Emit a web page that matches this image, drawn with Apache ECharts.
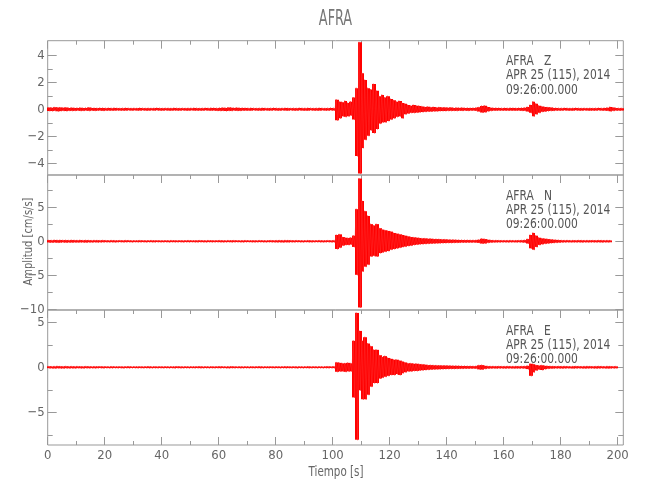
<!DOCTYPE html>
<html>
<head>
<meta charset="utf-8">
<script src="https://cdn.jsdelivr.net/npm/echarts@6/dist/echarts.min.js"></script>
<style>html,body{margin:0;padding:0;background:#fff}#c{width:650px;height:500px}</style>
</head>
<body>
<div id="c"></div>
<script>
// ---- data (envelope peaks per 1-second bin) ----
const xMajor = [0,20,40,60,80,100,120,140,160,180,200];
const xMinor = [10,30,50,70,90,110,130,150,170,190];
const zTicks = [-4,-2,0,2,4];
const zMinor = [-3,-1,1,3];
const nTicks = [-10,-5,0,5];
const nMinor = [-7.5,-2.5,2.5,7.5];
const eTicks = [-5,0,5];
const eMinor = [-7.5,-2.5,2.5];
const panelNames = ['AFRA   Z','AFRA   N','AFRA   E'];
const dateLine = 'APR 25 (115), 2014';
const timeLine = '09:26:00.000';

const zHi = [0.17,0.15,0.18,0.16,0.17,0.15,0.16,0.14,0.15,0.13,
 0.14,0.15,0.13,0.14,0.16,0.14,0.13,0.12,0.14,0.13,
 0.12,0.13,0.12,0.14,0.12,0.11,0.12,0.13,0.12,0.11,
 0.12,0.11,0.13,0.12,0.11,0.12,0.11,0.12,0.13,0.12,
 0.11,0.12,0.12,0.11,0.13,0.12,0.11,0.12,0.11,0.12,
 0.12,0.13,0.12,0.11,0.12,0.13,0.12,0.14,0.13,0.12,
 0.14,0.15,0.14,0.16,0.15,0.14,0.15,0.13,0.14,0.13,
 0.12,0.13,0.12,0.11,0.12,0.13,0.12,0.11,0.12,0.13,
 0.12,0.11,0.12,0.13,0.12,0.11,0.12,0.11,0.13,0.12,
 0.12,0.13,0.12,0.11,0.12,0.13,0.12,0.11,0.12,0.13,
 0.12,0.75,0.60,0.55,0.65,0.50,0.60,0.90,1.60,5.00,
 2.70,2.20,1.60,1.50,1.90,1.40,1.00,1.10,0.90,1.00,
 0.80,0.70,0.60,0.65,0.50,0.45,0.35,0.30,0.35,0.30,
 0.28,0.25,0.20,0.22,0.18,0.20,0.17,0.18,0.16,0.17,
 0.15,0.16,0.14,0.15,0.14,0.15,0.13,0.14,0.13,0.14,
 0.15,0.18,0.28,0.30,0.20,0.15,0.13,0.14,0.13,0.12,
 0.13,0.12,0.14,0.13,0.12,0.13,0.14,0.15,0.20,0.35,
 0.60,0.45,0.30,0.25,0.20,0.18,0.16,0.14,0.13,0.12,
 0.12,0.13,0.12,0.11,0.12,0.13,0.12,0.11,0.12,0.11,
 0.12,0.11,0.12,0.13,0.12,0.13,0.15,0.20,0.16,0.13,
 0.12,0.12];
const zLo = [-0.16,-0.17,-0.15,-0.18,-0.16,-0.15,-0.17,-0.14,-0.15,-0.14,
 -0.13,-0.15,-0.14,-0.13,-0.15,-0.13,-0.14,-0.12,-0.13,-0.14,
 -0.12,-0.12,-0.13,-0.12,-0.11,-0.12,-0.13,-0.12,-0.11,-0.12,
 -0.11,-0.12,-0.12,-0.11,-0.13,-0.12,-0.11,-0.12,-0.11,-0.12,
 -0.12,-0.11,-0.13,-0.12,-0.11,-0.12,-0.12,-0.11,-0.12,-0.13,
 -0.11,-0.12,-0.13,-0.12,-0.12,-0.11,-0.13,-0.13,-0.12,-0.14,
 -0.15,-0.14,-0.16,-0.14,-0.15,-0.13,-0.14,-0.14,-0.13,-0.12,
 -0.13,-0.12,-0.11,-0.12,-0.13,-0.12,-0.11,-0.12,-0.12,-0.11,
 -0.12,-0.13,-0.11,-0.12,-0.12,-0.11,-0.13,-0.12,-0.11,-0.12,
 -0.13,-0.12,-0.11,-0.12,-0.12,-0.13,-0.11,-0.12,-0.12,-0.11,
 -0.12,-0.85,-0.70,-0.55,-0.60,-0.55,-0.50,-0.80,-3.50,-4.80,
 -2.90,-2.30,-2.00,-1.60,-1.80,-1.50,-1.10,-1.00,-1.00,-0.90,
 -0.80,-0.70,-0.60,-0.55,-0.70,-0.40,-0.35,-0.30,-0.30,-0.28,
 -0.25,-0.24,-0.22,-0.20,-0.20,-0.18,-0.18,-0.17,-0.16,-0.16,
 -0.15,-0.15,-0.14,-0.15,-0.13,-0.14,-0.13,-0.14,-0.13,-0.13,
 -0.15,-0.20,-0.28,-0.25,-0.18,-0.15,-0.13,-0.13,-0.12,-0.12,
 -0.12,-0.13,-0.12,-0.13,-0.12,-0.12,-0.14,-0.15,-0.20,-0.30,
 -0.55,-0.40,-0.30,-0.22,-0.20,-0.17,-0.15,-0.14,-0.13,-0.12,
 -0.12,-0.11,-0.12,-0.13,-0.12,-0.11,-0.12,-0.13,-0.11,-0.12,
 -0.12,-0.13,-0.12,-0.11,-0.12,-0.13,-0.14,-0.18,-0.15,-0.12,
 -0.12,-0.12];

const nHi = [0.25,0.22,0.26,0.24,0.25,0.23,0.24,0.22,0.25,0.23,
 0.22,0.24,0.21,0.23,0.22,0.20,0.22,0.21,0.20,0.22,
 0.20,0.19,0.21,0.20,0.18,0.20,0.19,0.21,0.20,0.18,
 0.19,0.18,0.20,0.19,0.18,0.19,0.20,0.18,0.19,0.18,
 0.18,0.19,0.18,0.20,0.19,0.18,0.19,0.18,0.19,0.20,
 0.19,0.18,0.19,0.20,0.19,0.18,0.20,0.19,0.18,0.19,
 0.20,0.19,0.18,0.20,0.19,0.20,0.19,0.18,0.19,0.20,
 0.19,0.18,0.19,0.18,0.20,0.19,0.18,0.19,0.20,0.19,
 0.20,0.21,0.20,0.22,0.21,0.20,0.19,0.20,0.19,0.18,
 0.19,0.20,0.19,0.18,0.19,0.20,0.19,0.18,0.20,0.19,
 0.20,1.00,1.10,0.70,0.60,0.55,0.60,0.90,4.80,9.30,
 6.00,4.50,3.80,2.60,2.40,2.60,2.00,1.80,1.70,1.60,
 1.50,1.30,1.20,1.10,1.00,0.90,0.80,0.70,0.65,0.60,
 0.55,0.50,0.50,0.45,0.45,0.40,0.40,0.38,0.35,0.35,
 0.32,0.30,0.30,0.28,0.27,0.26,0.25,0.25,0.24,0.24,
 0.25,0.30,0.45,0.40,0.30,0.25,0.22,0.22,0.21,0.20,
 0.20,0.20,0.21,0.20,0.20,0.21,0.22,0.25,0.40,1.00,
 1.30,0.90,0.60,0.50,0.45,0.40,0.35,0.30,0.28,0.25,
 0.22,0.21,0.22,0.20,0.21,0.20,0.22,0.21,0.20,0.21,
 0.20,0.21,0.20,0.22,0.21,0.20,0.21,0.20];
const nLo = [-0.24,-0.25,-0.23,-0.26,-0.24,-0.22,-0.25,-0.23,-0.24,-0.22,
 -0.23,-0.21,-0.22,-0.24,-0.21,-0.22,-0.20,-0.22,-0.21,-0.20,
 -0.19,-0.20,-0.19,-0.21,-0.19,-0.18,-0.20,-0.19,-0.18,-0.20,
 -0.18,-0.19,-0.19,-0.18,-0.20,-0.18,-0.19,-0.20,-0.18,-0.19,
 -0.19,-0.18,-0.20,-0.18,-0.19,-0.19,-0.18,-0.20,-0.18,-0.19,
 -0.18,-0.19,-0.20,-0.18,-0.19,-0.20,-0.18,-0.19,-0.19,-0.18,
 -0.19,-0.20,-0.19,-0.18,-0.20,-0.19,-0.18,-0.19,-0.20,-0.18,
 -0.18,-0.19,-0.20,-0.19,-0.18,-0.19,-0.20,-0.18,-0.19,-0.20,
 -0.21,-0.20,-0.22,-0.20,-0.21,-0.19,-0.20,-0.18,-0.19,-0.20,
 -0.18,-0.19,-0.20,-0.19,-0.18,-0.19,-0.20,-0.19,-0.18,-0.20,
 -0.20,-1.20,-1.00,-0.70,-0.60,-0.60,-0.55,-0.90,-5.00,-9.80,
 -4.50,-3.80,-3.50,-2.30,-2.20,-2.30,-1.80,-1.70,-1.60,-1.50,
 -1.30,-1.20,-1.10,-1.00,-0.90,-0.85,-0.75,-0.70,-0.60,-0.55,
 -0.50,-0.48,-0.45,-0.42,-0.40,-0.38,-0.36,-0.35,-0.33,-0.32,
 -0.30,-0.30,-0.28,-0.27,-0.26,-0.25,-0.25,-0.24,-0.24,-0.23,
 -0.25,-0.30,-0.40,-0.38,-0.28,-0.24,-0.22,-0.21,-0.21,-0.20,
 -0.20,-0.21,-0.20,-0.20,-0.21,-0.20,-0.22,-0.25,-0.40,-1.10,
 -1.30,-0.90,-0.60,-0.50,-0.42,-0.38,-0.33,-0.30,-0.27,-0.25,
 -0.22,-0.21,-0.20,-0.21,-0.20,-0.21,-0.20,-0.22,-0.20,-0.21,
 -0.20,-0.20,-0.21,-0.20,-0.22,-0.20,-0.21,-0.20];

const eHi = [0.17,0.15,0.16,0.18,0.16,0.15,0.17,0.15,0.16,0.15,
 0.16,0.15,0.14,0.16,0.15,0.14,0.15,0.14,0.15,0.14,
 0.14,0.13,0.15,0.14,0.13,0.14,0.13,0.14,0.15,0.13,
 0.14,0.13,0.14,0.13,0.14,0.15,0.13,0.14,0.13,0.14,
 0.13,0.14,0.13,0.14,0.13,0.15,0.14,0.13,0.14,0.13,
 0.14,0.13,0.14,0.15,0.13,0.14,0.13,0.14,0.13,0.14,
 0.15,0.14,0.13,0.14,0.15,0.14,0.13,0.14,0.13,0.14,
 0.13,0.14,0.13,0.14,0.15,0.13,0.14,0.13,0.14,0.13,
 0.14,0.13,0.14,0.15,0.14,0.13,0.14,0.13,0.14,0.13,
 0.14,0.15,0.13,0.14,0.13,0.14,0.13,0.14,0.15,0.14,
 0.15,0.60,0.55,0.50,0.50,0.55,0.50,3.00,6.10,4.10,
 3.00,3.40,2.70,2.40,2.00,2.00,1.40,1.20,1.30,1.10,
 1.00,0.90,0.90,0.80,0.70,0.60,0.50,0.50,0.45,0.45,
 0.40,0.38,0.35,0.30,0.30,0.28,0.27,0.26,0.25,0.25,
 0.24,0.23,0.22,0.22,0.21,0.20,0.20,0.19,0.19,0.18,
 0.19,0.28,0.30,0.22,0.18,0.17,0.17,0.16,0.17,0.16,
 0.16,0.17,0.16,0.16,0.17,0.16,0.17,0.18,0.22,0.45,
 0.40,0.30,0.25,0.28,0.22,0.20,0.18,0.17,0.16,0.17,
 0.16,0.17,0.16,0.15,0.16,0.17,0.16,0.15,0.16,0.17,
 0.16,0.15,0.16,0.17,0.16,0.15,0.17,0.16,0.15,0.16];
const eLo = [-0.15,-0.16,-0.17,-0.15,-0.16,-0.17,-0.15,-0.16,-0.15,-0.16,
 -0.14,-0.15,-0.16,-0.14,-0.15,-0.14,-0.15,-0.14,-0.13,-0.15,
 -0.13,-0.14,-0.14,-0.13,-0.14,-0.13,-0.15,-0.13,-0.14,-0.13,
 -0.13,-0.14,-0.13,-0.14,-0.13,-0.14,-0.14,-0.13,-0.14,-0.13,
 -0.14,-0.13,-0.14,-0.13,-0.15,-0.13,-0.14,-0.14,-0.13,-0.14,
 -0.13,-0.14,-0.13,-0.14,-0.14,-0.13,-0.14,-0.13,-0.14,-0.13,
 -0.14,-0.13,-0.14,-0.15,-0.13,-0.14,-0.13,-0.14,-0.14,-0.13,
 -0.14,-0.13,-0.14,-0.13,-0.14,-0.14,-0.13,-0.14,-0.13,-0.14,
 -0.13,-0.14,-0.13,-0.14,-0.13,-0.14,-0.13,-0.15,-0.13,-0.14,
 -0.13,-0.14,-0.14,-0.13,-0.14,-0.13,-0.14,-0.13,-0.14,-0.13,
 -0.14,-0.55,-0.50,-0.50,-0.55,-0.50,-0.50,-3.40,-8.10,-2.60,
 -3.60,-3.60,-3.10,-2.20,-1.80,-1.80,-1.30,-1.20,-1.10,-1.00,
 -0.90,-0.90,-0.80,-0.90,-0.70,-0.60,-0.50,-0.50,-0.45,-0.45,
 -0.40,-0.38,-0.35,-0.32,-0.30,-0.28,-0.27,-0.26,-0.25,-0.24,
 -0.23,-0.22,-0.22,-0.21,-0.20,-0.20,-0.19,-0.19,-0.18,-0.18,
 -0.19,-0.28,-0.30,-0.22,-0.18,-0.17,-0.16,-0.17,-0.16,-0.16,
 -0.17,-0.16,-0.16,-0.17,-0.16,-0.17,-0.16,-0.18,-0.25,-1.00,
 -0.60,-0.40,-0.30,-0.35,-0.25,-0.20,-0.18,-0.17,-0.16,-0.16,
 -0.17,-0.16,-0.15,-0.16,-0.17,-0.16,-0.15,-0.16,-0.17,-0.16,
 -0.15,-0.16,-0.17,-0.16,-0.15,-0.16,-0.17,-0.16,-0.15,-0.16];

// ---- chart ----
const FONT = "'DejaVu Sans Condensed','Liberation Sans Narrow','Liberation Sans',sans-serif";
const AX = '#999';
const TXT = '#666';
const RED = '#ff0000';
const L = 47.7, W = 575.6;
const panels = [
  {top: 40.7, h: 134.3, min: -4.87, max: 5.08, major: zTicks, minor: zMinor, hi: zHi, lo: zLo},
  {top: 175, h: 135, min: -10.1, max: 9.75, major: nTicks, minor: nMinor, hi: nHi, lo: nLo},
  {top: 310, h: 135, min: -8.63, max: 6.37, major: eTicks, minor: eMinor, hi: eHi, lo: eLo}
];
const fmt = v => String(v).replace('-', '\u2212');

// one [second, peak-up, peak-down] record per 1-second bin
function bins(hi, lo) {
  return hi.map((h, i) => [i, h, lo[i]]);
}
// zig-zag trace through the peaks
function trace(hi, lo) {
  const d = [];
  for (let i = 0; i < hi.length; i++) {
    d.push([i + 0.25, hi[i]]);
    d.push([i + 0.75, lo[i]]);
  }
  return d;
}
function renderBin(params, api) {
  const t = api.value(0);
  const a = api.coord([t, api.value(1)]);
  const b = api.coord([t + 1, api.value(2)]);
  const x0 = Math.floor(a[0]), x1 = Math.ceil(b[0]);
  const y0 = a[1] + 0.5, y1 = Math.max(b[1] - 0.5, y0 + 1);
  return {type: 'rect', shape: {x: x0, y: y0, width: x1 - x0, height: y1 - y0},
    style: {fill: RED}};
}

const grid = [], xAxis = [], yAxis = [], series = [], graphic = [];
function xa(g, pos, ticks, len, labels) {
  xAxis.push({
    gridIndex: g, type: 'value', min: 0, max: 202, position: pos,
    axisLine: {show: false, onZero: false},
    axisTick: {inside: true, length: len, customValues: ticks, lineStyle: {color: AX, width: 1}},
    axisLabel: labels ? {show: true, customValues: xMajor, color: TXT, fontFamily: FONT, fontSize: 13, margin: 4} : {show: false},
    splitLine: {show: false}
  });
  return xAxis.length - 1;
}
function ya(g, p, pos, ticks, len, labels) {
  yAxis.push({
    gridIndex: g, type: 'value', min: p.min, max: p.max, position: pos,
    axisLine: {show: false, onZero: false},
    axisTick: {inside: true, length: len, customValues: ticks, lineStyle: {color: AX, width: 1}},
    axisLabel: labels ? {show: true, customValues: ticks, color: TXT, fontFamily: FONT, fontSize: 13, margin: 3, formatter: fmt} : {show: false},
    splitLine: {show: false}
  });
  return yAxis.length - 1;
}

panels.forEach((p, g) => {
  grid.push({left: L, top: p.top, width: W, height: p.h, show: true, borderColor: AX, borderWidth: 1,
    backgroundColor: 'transparent', containLabel: false, outerBoundsMode: 'none'});
  const xi = xa(g, 'top', xMajor, 8, false);
  xa(g, 'top', xMinor, 4, false);
  if (g === 2) {
    xa(g, 'bottom', xMajor, 8, true);
    xa(g, 'bottom', xMinor, 4, false);
  }
  const yi = ya(g, p, 'left', p.major, 9, true);
  ya(g, p, 'left', p.minor, 5, false);
  ya(g, p, 'right', p.major, 8, false);
  ya(g, p, 'right', p.minor, 5, false);
  series.push({
    type: 'custom', xAxisIndex: xi, yAxisIndex: yi, data: bins(p.hi, p.lo),
    renderItem: renderBin, clip: true, animation: false, silent: true
  });
  series.push({
    type: 'line', xAxisIndex: xi, yAxisIndex: yi, data: trace(p.hi, p.lo),
    showSymbol: false, symbol: 'none', clip: true, animation: false, silent: true,
    lineStyle: {color: '#ff3030', width: 0.5}
  });
  const ty = p.top + 21;
  [panelNames[g], dateLine, timeLine].forEach((t, k) => {
    graphic.push({type: 'text', x: 506, y: ty + k * 14.2, z: 100, scaleX: 0.88,
      style: {text: t, fill: '#555', font: '13.5px ' + FONT, textAlign: 'left', textVerticalAlign: 'middle'}});
  });
});
graphic.push({type: 'text', x: 335.5, y: 20, scaleX: 0.68,
  style: {text: 'AFRA', fill: '#777', font: '21px ' + FONT, textAlign: 'center', textVerticalAlign: 'middle'}});
graphic.push({type: 'text', x: 336, y: 472, scaleX: 0.82,
  style: {text: 'Tiempo [s]', fill: TXT, font: '14px ' + FONT, textAlign: 'center', textVerticalAlign: 'middle'}});
graphic.push({type: 'text', x: 28.5, y: 241.5, rotation: Math.PI / 2, scaleX: 0.85,
  style: {text: 'Amplitud [cm/s/s]', fill: TXT, font: '13px ' + FONT, textAlign: 'center', textVerticalAlign: 'middle'}});

const chart = echarts.init(document.getElementById('c'), null, {renderer: 'canvas'});
chart.setOption({animation: false, backgroundColor: '#fff', grid, xAxis, yAxis, series, graphic});
</script>
</body>
</html>
